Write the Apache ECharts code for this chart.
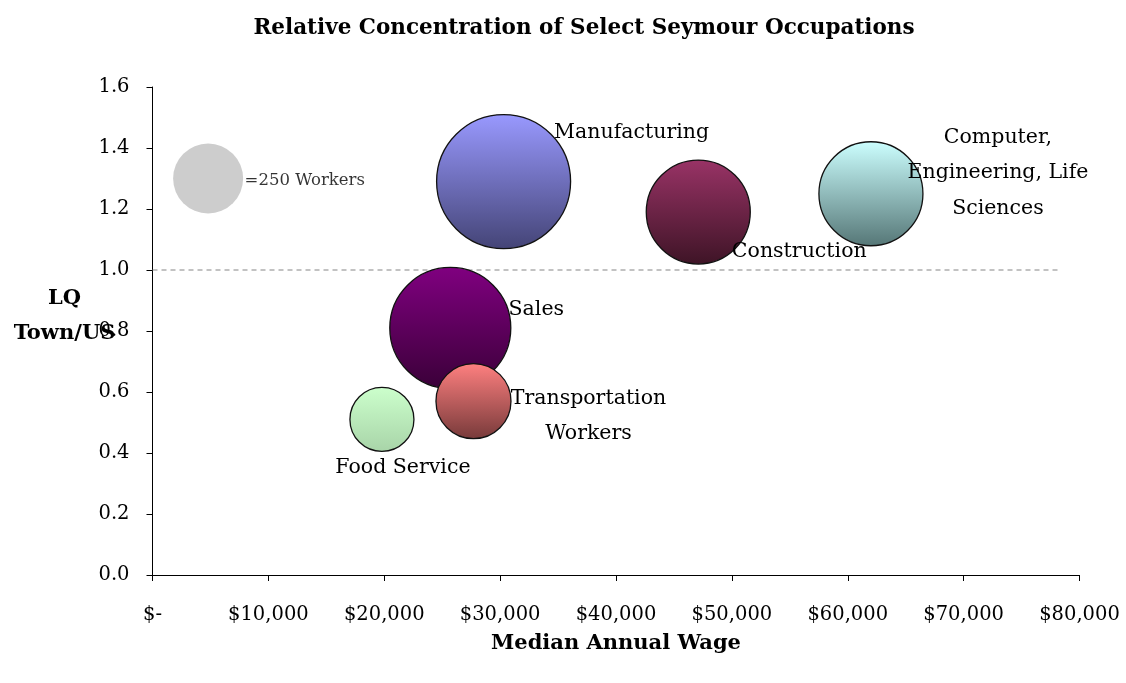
<!DOCTYPE html>
<html>
<head>
<meta charset="utf-8">
<script src="https://cdn.jsdelivr.net/npm/echarts@6/dist/echarts.min.js"></script>
<style>
html,body{margin:0;padding:0;background:#fff;}
#chart{width:1126px;height:683px;}
</style>
</head>
<body>
<div id="chart"></div>
<script>
// ---- data ----
const occupations = ['Manufacturing', 'Construction', 'Computer,\nEngineering, Life\nSciences', 'Sales', 'Transportation\nWorkers', 'Food Service'];
const medianWage = [30300, 47100, 62000, 25700, 27700, 19800];
const lqTownUS = [1.29, 1.19, 1.25, 0.81, 0.57, 0.51];
const workers = [916, 552, 552, 747, 287, 209];
const legendWage = [4800];
const legendLQ = [1.30];
const legendWorkers = [250];
const legendText = ['=250 Workers'];
const refLineWage = [0, 78300];
const refLineLQ = [1.0, 1.0];

// ---- styles ----
const FONT = '"DejaVu Serif", serif';
const gradTop = ['#9999ff', '#993366', '#ccffff', '#800080', '#ff8080', '#ccffcc'];
const gradBot = ['#444476', '#3e1426', '#557676', '#3a0038', '#773a3a', '#a8d4a8'];
const labelOffsets = [[128, -49], [101, 40], [127, -21], [86, -18], [115, 15], [21, 48]];
const REF_D = 70; // pixel diameter of 250 workers
function sizeOf(v) { return REF_D * Math.sqrt(v[2] / 250); }

const bubbleSeries = occupations.map((name, i) => ({
  type: 'scatter', z: 3 + i,
  name: name,
  data: [{ name: name, value: [medianWage[i], lqTownUS[i], workers[i]] }],
  symbolSize: sizeOf,
  itemStyle: {
    borderColor: '#111', borderWidth: 1.3, opacity: 1,
    color: new echarts.graphic.LinearGradient(0, 0, 0, 1, [
      { offset: 0, color: gradTop[i] },
      { offset: 1, color: gradBot[i] }
    ])
  },
  label: {
    show: true, position: 'inside', align: 'center', verticalAlign: 'middle',
    offset: labelOffsets[i],
    formatter: p => p.name, fontFamily: FONT, fontSize: 20.5, color: '#000', lineHeight: 35.5
  }
}));

const chart = echarts.init(document.getElementById('chart'));
chart.setOption({
  animation: false,
  backgroundColor: '#ffffff',
  title: {
    text: 'Relative Concentration of Select Seymour Occupations',
    left: 579, top: 12, textAlign: 'center',
    textStyle: { fontFamily: FONT, fontSize: 21.5, fontWeight: 'bold', color: '#000' }
  },
  grid: { left: 152.5, right: 46.5, top: 87, bottom: 108, containLabel: false, outerBoundsMode: 'none' },
  xAxis: {
    type: 'value', min: 0, max: 80000, interval: 10000,
    name: 'Median Annual Wage', nameLocation: 'middle', nameGap: 58,
    nameTextStyle: { fontFamily: FONT, fontSize: 21, fontWeight: 'bold', color: '#000' },
    axisLine: { show: true, lineStyle: { color: '#000', width: 1 } },
    axisTick: { show: true, length: 6, lineStyle: { color: '#000' } },
    splitLine: { show: false },
    axisLabel: {
      margin: 30, fontFamily: FONT, fontSize: 19.5, color: '#000',
      formatter: v => v === 0 ? '$-' : '$' + v.toLocaleString('en-US')
    }
  },
  yAxis: {
    type: 'value', min: 0, max: 1.6, interval: 0.2,
    name: '{a|LQ}\n{a|Town/US}\n{b| }', nameLocation: 'middle', nameGap: 88, nameRotate: 0,
    nameMoveOverlap: false,
    nameTextStyle: {
      fontFamily: FONT, fontSize: 21, fontWeight: 'bold', color: '#000', align: 'center', verticalAlign: 'middle',
      rich: {
        a: { fontFamily: FONT, fontSize: 21, fontWeight: 'bold', color: '#000', lineHeight: 35, align: 'center' },
        b: { fontSize: 10, lineHeight: 29 }
      }
    },
    axisLine: { show: true, lineStyle: { color: '#000', width: 1 } },
    axisTick: { show: true, length: 6, lineStyle: { color: '#000' } },
    splitLine: { show: false },
    axisLabel: {
      margin: 23, fontFamily: FONT, fontSize: 19.5, color: '#000',
      formatter: v => v.toFixed(1)
    }
  },
  series: [
    {
      type: 'line', z: 1,
      data: refLineWage.map((x, i) => [x, refLineLQ[i]]),
      symbol: 'none', silent: true,
      lineStyle: { color: '#858585', width: 1, type: [5, 4] }
    },
    {
      type: 'scatter', z: 2,
      data: legendWage.map((x, i) => ({ value: [x, legendLQ[i], legendWorkers[i]], name: legendText[i] })),
      symbolSize: sizeOf,
      itemStyle: { color: '#c0c0c0', borderWidth: 0 },
      label: {
        show: true, position: 'inside', align: 'left', offset: [36.5, 2],
        formatter: p => p.name, fontFamily: FONT, fontSize: 16.5, color: '#000'
      }
    }
  ].concat(bubbleSeries)
});
</script>
</body>
</html>
